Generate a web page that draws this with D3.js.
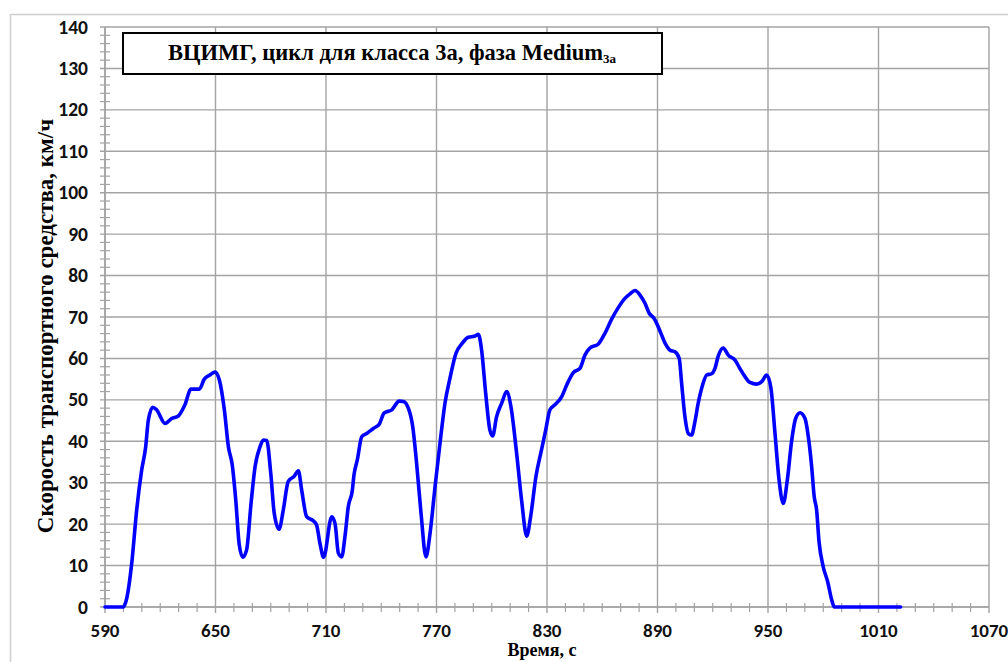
<!DOCTYPE html>
<html>
<head>
<meta charset="utf-8">
<script src="https://cdn.jsdelivr.net/npm/d3@7"></script>
<style>
  html, body { margin: 0; padding: 0; background: #fff; }
  svg { display: block; }
</style>
</head>
<body>
<svg id="chart" width="1008" height="662"></svg>
<script>
// ---- data ----
const time = [590, 600, 601.8, 604.5, 607.2, 609.9, 612.1, 613.5, 615.9, 618.0, 622.6, 626.2, 629.8, 633.4, 636.7, 641.2, 643.9, 647, 649.7, 652.1, 654.8, 657, 659.1, 661, 662.9, 664.8, 666.9, 669.3, 671.5, 674.2, 676, 677.8, 680, 681.9, 684.5, 686.8, 689.5, 692.8, 695, 696.8, 699.5, 703.1, 704.9, 706.7, 708.7, 713.1, 714.9, 716.7, 718.5, 720.3, 722.1, 724.3, 725.2, 727, 729.4, 732.1, 735.7, 739, 741.5, 745.7, 749.8, 752, 754.7, 757.1, 759.2, 761.6, 764.3, 766.5, 769.2, 771.9, 774.6, 777.3, 780.6, 783.7, 787.3, 790.9, 792.7, 794.5, 796.7, 799, 800.5, 802.6, 805.4, 808.1, 810.4, 813.5, 816.2, 819, 821.1, 824, 826.8, 829.2, 831.6, 834.3, 838, 840.7, 844.3, 847.9, 850.6, 853.3, 857.9, 861.5, 865.1, 868.2, 872.3, 875.1, 877.8, 880.5, 883.2, 885.5, 888.1, 891, 894.1, 896.8, 899.5, 901.8, 903.1, 904.9, 906.7, 908.5, 910.3, 912.1, 914.5, 916.7, 919.4, 921.2, 923, 925.7, 928.4, 932.1, 934.8, 937.5, 940.2, 943.9, 946.6, 949.3, 951.6, 953.8, 956, 958.3, 960.5, 962.9, 965, 967.4, 970.1, 971.9, 973.7, 975.1, 976.4, 977.7, 980, 982.4, 984.6, 986, 1000, 1022];
const speed = [0, 0, 2.1, 10.5, 23.4, 33, 38.7, 45, 48.2, 47.6, 44.3, 45.5, 46.1, 48.8, 52.6, 52.6, 55, 56, 56.7, 54.8, 47.6, 38.7, 34.3, 25.8, 15, 12, 13.8, 25, 33.9, 38.7, 40.3, 40.2, 32.3, 22.6, 18.8, 23.4, 30.3, 31.6, 32.9, 28.2, 21.8, 20.8, 19.8, 15.4, 12.0, 21.8, 20.2, 13, 12.1, 17, 24.2, 28.2, 31.9, 35.5, 41.1, 41.9, 43.1, 44.2, 46.8, 47.6, 49.7, 49.6, 48, 43.5, 34.7, 22.6, 12.1, 17.8, 29, 39.5, 49.2, 55.2, 61.3, 63.5, 65.1, 65.4, 65.8, 62, 51.6, 42.7, 41.3, 45.9, 49.2, 52, 48.4, 37.1, 25.8, 17.1, 21.8, 31.5, 37.5, 42.5, 47.6, 48.8, 50.8, 53.6, 56.6, 57.6, 60.8, 62.5, 63.5, 66.1, 69.5, 71.9, 74.5, 75.6, 76.4, 75.3, 73.3, 70.9, 69.7, 67, 63.7, 62, 61.6, 60, 54, 45.9, 41.9, 41.5, 44.7, 49.2, 53.6, 56, 56.3, 57.6, 60.6, 62.5, 60.8, 59.6, 57.5, 55.6, 54.2, 53.8, 54.4, 56, 52.8, 41.9, 30.7, 25, 30.7, 40.3, 45.5, 46.9, 45.5, 41.1, 33.9, 26.6, 23.4, 15.8, 9.7, 6.1, 1.7, 0, 0, 0];
const xTicks = [590, 650, 710, 770, 830, 890, 950, 1010, 1070];
const yTicks = [0, 10, 20, 30, 40, 50, 60, 70, 80, 90, 100, 110, 120, 130, 140];
const titleMain = "ВЦИМГ, цикл для класса 3а, фаза Medium";
const titleSub = "3а";
const xLabel = "Время, с";
const yLabel = "Скорость транспортного средства, км/ч";

// ---- layout ----
const svg = d3.select("#chart");
const pLeft = 105, pRight = 989, pTop = 27, pBottom = 607;
const x = d3.scaleLinear().domain([590, 1070]).range([pLeft, pRight]);
const y = d3.scaleLinear().domain([0, 140]).range([pBottom, pTop]);
const gridColor = "#a3a3a3";

// outer chart border
svg.append("rect").attr("x", 10.5).attr("y", 14.5).attr("width", 1010).attr("height", 660)
  .attr("fill", "none").attr("stroke", "#cfcfcf").attr("stroke-width", 1.5);

// gridlines
const g = svg.append("g");
g.selectAll("line.hg").data(yTicks).join("line")
  .attr("x1", pLeft - 5).attr("x2", pRight).attr("y1", d => y(d)).attr("y2", d => y(d))
  .attr("stroke", gridColor).attr("stroke-width", 1.4);
g.selectAll("line.vg").data(xTicks).join("line")
  .attr("x1", d => x(d)).attr("x2", d => x(d)).attr("y1", pTop).attr("y2", pBottom + 6)
  .attr("stroke", gridColor).attr("stroke-width", 1.4);

// minor ticks
const yMinor = d3.range(0, 140.01, 2).filter(v => v % 10 !== 0);
g.selectAll("line.ym").data(yMinor).join("line")
  .attr("x1", pLeft - 5).attr("x2", pLeft + 5).attr("y1", d => y(d)).attr("y2", d => y(d))
  .attr("stroke", gridColor).attr("stroke-width", 1.2);
const xMinor = d3.range(590, 1070.01, 10).filter(v => (v - 590) % 60 !== 0);
g.selectAll("line.xm").data(xMinor).join("line")
  .attr("x1", d => x(d)).attr("x2", d => x(d)).attr("y1", pBottom - 4).attr("y2", pBottom + 5)
  .attr("stroke", gridColor).attr("stroke-width", 1.2);

// axis lines
g.append("line").attr("x1", pLeft).attr("x2", pLeft).attr("y1", pTop).attr("y2", pBottom)
  .attr("stroke", gridColor).attr("stroke-width", 1.6);
g.append("line").attr("x1", pLeft).attr("x2", pRight).attr("y1", pBottom).attr("y2", pBottom)
  .attr("stroke", gridColor).attr("stroke-width", 1.6);

// tick labels
const tickFont = "Carlito, 'Open Sans', 'Liberation Sans', sans-serif";
svg.append("g").selectAll("text").data(yTicks).join("text")
  .attr("x", 88).attr("y", d => y(d)).attr("dy", "0.34em")
  .attr("text-anchor", "end").attr("font-family", tickFont).attr("font-weight", "bold")
  .attr("font-size", 19.5).attr("fill", "#111").text(d => d);
svg.append("g").selectAll("text").data(xTicks).join("text")
  .attr("x", d => x(d)).attr("y", 637)
  .attr("text-anchor", "middle").attr("font-family", tickFont).attr("font-weight", "bold")
  .attr("font-size", 19).attr("fill", "#111").text(d => d);

// axis titles
const serif = "'Liberation Serif', 'Times New Roman', serif";
svg.append("text").attr("transform", "translate(53,326) rotate(-90)")
  .attr("text-anchor", "middle").attr("font-family", serif).attr("font-weight", "bold")
  .attr("font-size", 23).attr("fill", "#000").text(yLabel);
svg.append("text").attr("x", 542).attr("y", 656)
  .attr("text-anchor", "middle").attr("font-family", serif).attr("font-weight", "bold")
  .attr("font-size", 18).attr("fill", "#000").text(xLabel);

// title box
svg.append("rect").attr("x", 123).attr("y", 33).attr("width", 539).attr("height", 41)
  .attr("fill", "#fff").attr("stroke", "#000").attr("stroke-width", 2);
const tt = svg.append("text").attr("x", 392).attr("y", 60)
  .attr("text-anchor", "middle").attr("font-family", serif).attr("font-weight", "bold")
  .attr("font-size", 22.5).attr("fill", "#000");
tt.append("tspan").text(titleMain);
tt.append("tspan").attr("font-size", 13).attr("dy", 3).text(titleSub);

// data line
const pts = time.map((d, i) => [d, speed[i]]);
const line = d3.line().x(d => x(d[0])).y(d => y(d[1])).curve(d3.curveMonotoneX);
svg.append("path").datum(pts).attr("d", line)
  .attr("fill", "none").attr("stroke", "#0000ff").attr("stroke-width", 3.6)
  .attr("stroke-linejoin", "round").attr("stroke-linecap", "round");
</script>
</body>
</html>
